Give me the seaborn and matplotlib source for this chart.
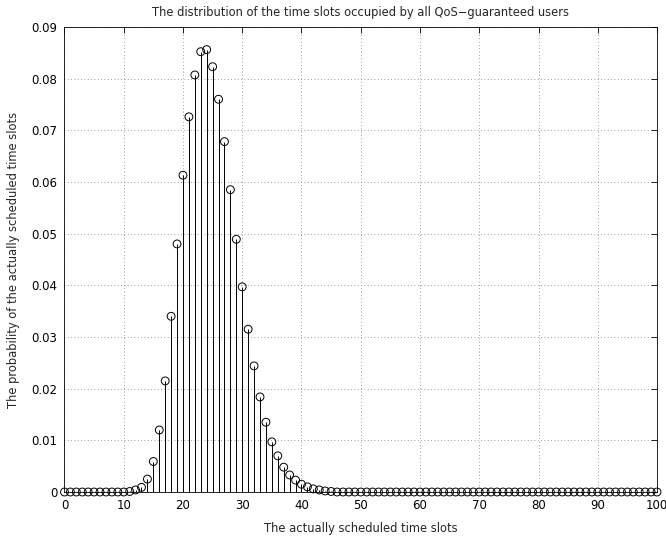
import numpy as np
import pandas as pd
import matplotlib
matplotlib.use("Agg")
import matplotlib.pyplot as plt
import seaborn as sns

slots = list(range(0, 101))
prob_head = [0, 0, 0, 0, 0, 0, 0, 0, 0, 0, 0.0000, 0.0001, 0.0004, 0.0009, 0.0025,
             0.0059, 0.0120, 0.0215, 0.0340, 0.0480, 0.0613, 0.0726, 0.0807, 0.0852,
             0.0856, 0.0823, 0.0760, 0.0678, 0.0585, 0.0489, 0.0397, 0.0315, 0.0244,
             0.0184, 0.0135, 0.0097, 0.0070, 0.0048, 0.0033, 0.0023, 0.0015, 0.0010,
             0.0006, 0.0004, 0.0002, 0.0001]
prob = prob_head + [0.0] * (len(slots) - len(prob_head))

x_ticks = [0, 10, 20, 30, 40, 50, 60, 70, 80, 90, 100]
y_ticks = [0, 0.01, 0.02, 0.03, 0.04, 0.05, 0.06, 0.07, 0.08, 0.09]
y_tick_labels = ["0", "0.01", "0.02", "0.03", "0.04", "0.05", "0.06", "0.07", "0.08", "0.09"]

df = pd.DataFrame({"slot": slots, "prob": prob})

sns.set_style("white")
plt.rcParams["font.family"] = ["DejaVu Sans"]

fig = plt.figure(figsize=(6.66, 5.38), dpi=100)
ax = fig.add_axes([0.0968, 0.0855, 0.8897, 0.8645])

ax.vlines(df["slot"], 0, df["prob"], color="black", linewidth=0.7, zorder=2)
sns.scatterplot(data=df, x="slot", y="prob", ax=ax, marker="o", s=32,
                facecolor="none", edgecolor="black", linewidth=0.7, zorder=3,
                legend=False, clip_on=False)

ax.set_xlim(0, 100)
ax.set_ylim(0, 0.09)
ax.set_xticks(x_ticks)
ax.set_xticklabels([str(t) for t in x_ticks])
ax.set_yticks(y_ticks)
ax.set_yticklabels(y_tick_labels)
ax.tick_params(direction="in", length=4, width=0.6, top=True, right=True,
               labelsize=8.5, colors="black", pad=5)
ax.grid(True, linestyle=(0, (1, 3)), color="#808080", linewidth=0.6)
ax.set_axisbelow(True)
for sp in ax.spines.values():
    sp.set_visible(True)
    sp.set_color("black")
    sp.set_linewidth(0.6)

ax.set_xlabel("The actually scheduled time slots", fontsize=8.3, labelpad=7)
ax.set_ylabel("The probability of the actually scheduled time slots", fontsize=8.3, labelpad=8)
ax.set_title("The distribution of the time slots occupied by all QoS\u2212guaranteed users",
             fontsize=8.3, pad=8)

fig.savefig("out.png", dpi=100)
